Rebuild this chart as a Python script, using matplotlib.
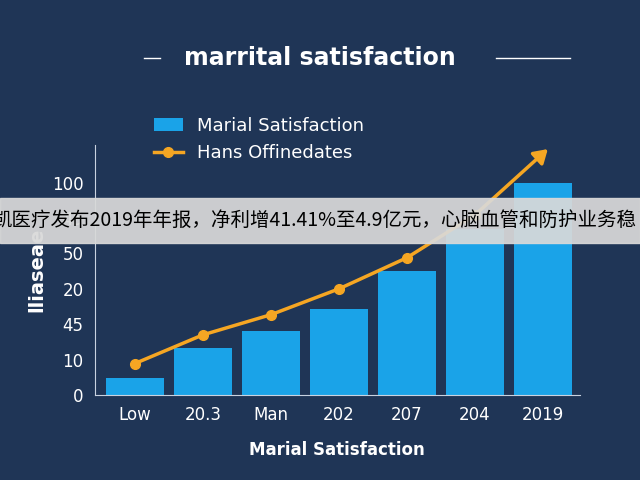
import numpy as np
import matplotlib.pyplot as plt
from matplotlib.patches import Rectangle

plt.rcParams['font.family'] = ['DejaVu Sans', 'Noto Sans CJK SC']

categories = ["Low", "20.3", "Man", "202", "207", "204", "2019"]
bar_values = [0.49, 1.32, 1.81, 2.44, 3.5, 4.7, 6.0]
line_values = [0.89, 1.7, 2.27, 3.0, 3.88, 5.09]
arrow_end = (6.1, 7.0)
ytick_labels = ["0", "10", "45", "20", "50", "45", "100"]
banner_text = "凯医疗发布2019年年报，净利增41.41%至4.9亿元，心脑血管和防护业务稳"

bg = "#1f3556"
fig = plt.figure(figsize=(6.4, 4.8), dpi=100)
fig.patch.set_facecolor(bg)
ax = fig.add_axes([0.148, 0.177, 0.758, 0.52])
ax.set_facecolor(bg)

x = np.arange(len(categories))
ax.bar(x, bar_values, width=0.85, color="#1aa3e8", label="Marial Satisfaction", zorder=2)
ax.plot(x[:len(line_values)], line_values, color="#f5a623", lw=2.5, marker="o",
        ms=7, label="Hans Offinedates", zorder=3)
ax.annotate("", xy=arrow_end, xytext=(x[len(line_values) - 1], line_values[-1]),
            arrowprops=dict(arrowstyle="-|>,head_width=0.5,head_length=0.8",
                            color="#f5a623", lw=2.5), zorder=3)

ax.set_xlim(-0.59, 6.54)
ax.set_ylim(0, 7.05)
ax.set_xticks(x)
ax.set_xticklabels(categories, color="white", fontsize=12)
ax.set_yticks(range(len(ytick_labels)))
ax.set_yticklabels(ytick_labels, color="white", fontsize=12)
ax.tick_params(length=0, pad=8)
for s in ["top", "right"]:
    ax.spines[s].set_visible(False)
for s in ["left", "bottom"]:
    ax.spines[s].set_color("#c8d2e0")
ax.set_xlabel("Marial Satisfaction", color="white", fontsize=12, fontweight="bold", labelpad=12)
ax.set_ylabel("lliaseae", color="white", fontsize=14, fontweight="bold", labelpad=4)

handles, labels = ax.get_legend_handles_labels()
fig.legend(handles[::-1], labels[::-1], loc="upper left", bbox_to_anchor=(0.215, 0.79),
           frameon=False, labelcolor="white", fontsize=13, handlelength=1.6)

fig.text(0.5, 0.88, "marrital satisfaction", color="white", fontsize=17,
         fontweight="bold", ha="center", va="center")
fig.add_artist(plt.Line2D([0.225, 0.25], [0.88, 0.88], color="white", lw=1))
fig.add_artist(plt.Line2D([0.775, 0.89], [0.88, 0.88], color="white", lw=1))

fig.add_artist(Rectangle((0, 0.494), 1, 0.094, transform=fig.transFigure,
                         color="#d9d9d9", alpha=0.93, zorder=10))
fig.text(-0.012, 0.541, banner_text, color="black", fontsize=14, ha="left",
         va="center", zorder=11, family=['Noto Sans CJK SC', 'DejaVu Sans'])

fig.savefig("out.png", facecolor=bg)
